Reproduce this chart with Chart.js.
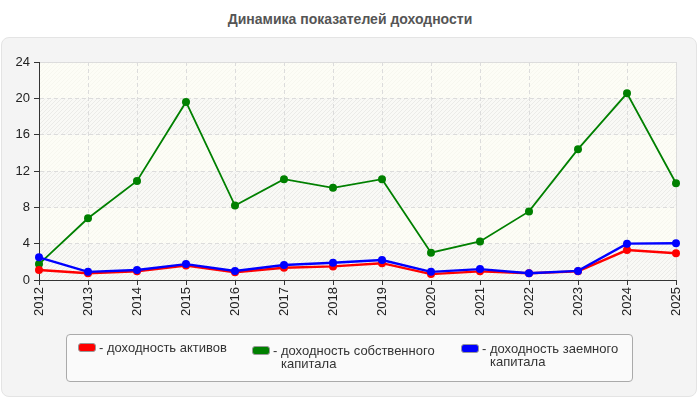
<!DOCTYPE html>
<html lang="ru">
<head>
    <meta charset="UTF-8">
    <title>Динамика показателей доходности</title>
    <script src="https://cdn.jsdelivr.net/npm/chart.js"></script>
    <style>
        body {
            margin: 0;
            background: #ffffff;
            font-family: 'Liberation Sans', Arial, sans-serif;
        }

        .wrap {
            position: relative;
            width: 700px;
            height: 400px;
            overflow: hidden;
        }

        .panel {
            position: absolute;
            left: 1px;
            top: 37px;
            width: 694px;
            height: 358px;
            background: #f4f4f4;
            border: 1px solid #e4e4e4;
            border-radius: 8px;
        }

        .title {
            position: absolute;
            top: 11px;
            left: 0;
            width: 700px;
            text-align: center;
            font-weight: bold;
            font-size: 14px;
            color: #555555;
        }

        canvas {
            position: absolute;
            left: 0;
            top: 0;
        }

        .legend {
            position: absolute;
            left: 66px;
            top: 334px;
            width: 565px;
            height: 46px;
            background: #fafafa;
            border: 1px solid #aaaaaa;
            border-radius: 4px;
        }

        .item {
            position: absolute;
            top: 8px;
            font-size: 13px;
            color: #333333;
            line-height: 13px;
        }

        .swatch {
            position: absolute;
            left: 0;
            top: 2px;
            width: 16px;
            height: 7px;
            border: 1px solid #999999;
            border-radius: 3px;
        }

        .label {
            position: absolute;
            top: 0;
            left: 21px;
            padding-left: 8px;
            text-indent: -8px;
            white-space: normal;
        }
    </style>
</head>
<body>
<div class="wrap">
    <div class="panel"></div>
    <div class="title">Динамика показателей доходности</div>
    <canvas id="chart" width="700" height="400"></canvas>
    <div class="legend" id="legend"></div>
</div>

<script>
    // data
    const years = ['2012', '2013', '2014', '2015', '2016', '2017', '2018',
                   '2019', '2020', '2021', '2022', '2023', '2024', '2025'];

    const assetsReturn = [1.1, 0.75, 0.95, 1.6, 0.85, 1.35, 1.5, 1.85, 0.65, 0.95, 0.75, 0.95, 3.3, 2.95];
    const equityReturn = [1.75, 6.8, 10.9, 19.6, 8.2, 11.1, 10.15, 11.1, 3.0, 4.25, 7.55, 14.4, 20.55, 10.65];
    const debtReturn   = [2.5, 0.9, 1.1, 1.75, 1.0, 1.65, 1.9, 2.2, 0.9, 1.2, 0.75, 1.0, 4.0, 4.05];

    const seriesNames = ['- доходность активов', '- доходность собственного капитала', '- доходность заемного капитала'];
    const seriesColors = ['#ff0000', '#008000', '#0000ff'];

    // legend in html
    const legendBox = document.getElementById('legend');
    const legendLeft = [11, 185, 394];
    const legendWidth = [150, 165, 150];
    const legendTop = [6, 9, 7];
    seriesNames.forEach((name, i) => {
        const item = document.createElement('div');
        item.className = 'item';
        item.style.left = legendLeft[i] + 'px';
        item.style.top = legendTop[i] + 'px';
        item.innerHTML = `<span class="swatch" style="background:${seriesColors[i]}"></span>` +
            `<span class="label" style="width:${legendWidth[i]}px">${name}</span>`;
        legendBox.appendChild(item);
    });

    // striped plot background
    function makePattern(bg, line) {
        const c = document.createElement('canvas');
        c.width = 4;
        c.height = 4;
        const g = c.getContext('2d');
        g.fillStyle = bg;
        g.fillRect(0, 0, 4, 4);
        g.strokeStyle = line;
        g.lineWidth = 1;
        g.beginPath();
        g.moveTo(-1, 5);
        g.lineTo(5, -1);
        g.stroke();
        return g.createPattern(c, 'repeat');
    }

    const plotBackground = {
        id: 'plotBackground',
        beforeDraw(chart) {
            const {ctx, chartArea: a, scales: {y}} = chart;
            const plain = makePattern('#fdfdf6', '#f7f7ef');
            const hatched = makePattern('#f9f9f6', '#ebebe8');
            ctx.save();
            const ticks = y.ticks.map(t => t.value);
            for (let i = 0; i < ticks.length - 1; i++) {
                const y0 = y.getPixelForValue(ticks[i]);
                const y1 = y.getPixelForValue(ticks[i + 1]);
                ctx.fillStyle = i % 2 === 0 ? hatched : plain;
                ctx.fillRect(a.left, y1, a.right - a.left, y0 - y1);
            }
            ctx.strokeStyle = '#dddddd';
            ctx.lineWidth = 1;
            ctx.strokeRect(a.left + 0.5, a.top + 0.5, a.right - a.left, a.bottom - a.top);
            ctx.restore();
        }
    };

    Chart.defaults.font.family = "'Liberation Sans', Arial, sans-serif";
    Chart.defaults.font.size = 13;
    Chart.defaults.color = '#222222';

    const lineData = [assetsReturn, equityReturn, debtReturn];
    const drawOrder = [1, 2, 0];

    new Chart(document.getElementById('chart').getContext('2d'), {
        type: 'line',
        data: {
            labels: years,
            datasets: lineData.map((values, i) => ({
                label: seriesNames[i],
                data: values,
                borderColor: seriesColors[i],
                backgroundColor: seriesColors[i],
                borderWidth: i === 1 ? 1.8 : 2.4,
                pointRadius: 4,
                pointBorderWidth: 0,
                pointBackgroundColor: seriesColors[i],
                tension: 0,
                fill: false,
                clip: false,
                order: drawOrder[i]
            }))
        },
        options: {
            responsive: false,
            animation: false,
            events: [],
            layout: {
                padding: {left: 0, right: 24, top: 62, bottom: 0}
            },
            plugins: {
                legend: {display: false},
                title: {display: false},
                tooltip: {enabled: false}
            },
            scales: {
                x: {
                    afterFit(scale) { scale.height = 120; },
                    grid: {
                        color: '#dcdcdc',
                        tickColor: '#333333',
                        tickLength: 5,
                        tickBorderDash: []
                    },
                    border: {color: '#333333', dash: [4, 3]},
                    ticks: {
                        autoSkip: false,
                        minRotation: 90,
                        maxRotation: 90,
                        padding: 2,
                        color: '#222222'
                    }
                },
                y: {
                    min: 0,
                    max: 24,
                    afterFit(scale) { scale.width = 39; },
                    grid: {
                        color: '#dcdcdc',
                        tickColor: '#333333',
                        tickLength: 5,
                        tickBorderDash: []
                    },
                    border: {color: '#333333', dash: [4, 3]},
                    ticks: {
                        stepSize: 4,
                        padding: 4,
                        color: '#222222'
                    }
                }
            }
        },
        plugins: [plotBackground]
    });
</script>
</body>
</html>
